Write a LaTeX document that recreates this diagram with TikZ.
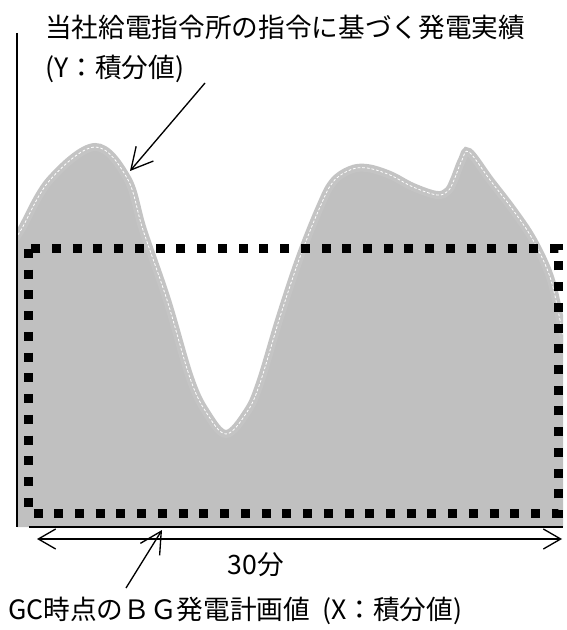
\documentclass[tikz,border=0pt]{standalone}
\usepackage{fontspec}
\setmainfont{Noto Sans CJK JP}
\usetikzlibrary{arrows.meta}
\definecolor{areagray}{HTML}{C0C0C0}
\definecolor{bandgray}{HTML}{C4C4C4}

% actual output curve (Y)
\newcommand{\actualcurve}{plot[smooth, tension=0.6] coordinates {(12,242) (21,230) (50,180) (95,147) (127,178) (143,230) (167,300) (190,378) (206,412) (226,434) (247,412) (260,383) (280,317) (300,257) (320,207) (333,182) (350,170) (367,168) (390,175) (413,187) (437,195) (448,191) (454,180) (462,160) (469,152) (490,180) (513,210) (533,240) (550,277) (560,320) (566,350)}}

\begin{document}
\begin{tikzpicture}[x=0.75pt, y=-0.75pt,
  barb/.style={-{Straight Barb[length=16pt,width=17pt]}, line width=1pt},
  spanbarb/.style={{Straight Barb[length=13pt,width=15pt]}-{Straight Barb[length=13pt,width=15pt]}, line width=1pt},
  planbox/.style={line width=6.75pt, dash pattern=on 6.75pt off 8.8pt},
  axis/.style={line width=1.5pt},
  label/.style={inner sep=0pt, font=\fontsize{20pt}{30pt}\selectfont}]
  \useasboundingbox (0,0) rectangle (566,630);

  % area under the actual output
  \begin{scope}
    \clip (17,0) rectangle (563,527);
    \fill[areagray] \actualcurve -- (566,527) -- (12,527) -- cycle;
    \draw[bandgray, line width=6pt] \actualcurve;
    \draw[white, line width=0.6pt, dash pattern=on 2pt off 1.5pt] \actualcurve;
  \end{scope}

  % BG plan (X)
  \draw[planbox] (28,249) rectangle (558,513);

  \draw[axis] (17,33) -- (17,527);
  \draw[axis] (29,527) -- (563,527);

  \coordinate (spanL) at (37,539);
  \coordinate (spanR) at (562,539);
  \draw[spanbarb] (spanL) -- (spanR);
  \node[label] (span) at (256,565) {30分};

  \node[label, anchor=north west, align=left] (resultlabel) at (45,15) {当社給電指令所の指令に基づく発電実績\\(Y：積分値)};
  \coordinate (resultfrom) at (205,83);
  \coordinate (resultto) at (130,171);
  \draw[barb] (resultfrom) -- (resultto);

  \node[label, anchor=west] (planlabel) at (8,611) {GC時点のＢＧ発電計画値\hspace{0.45em}(X：積分値)};
  \coordinate (planfrom) at (126,588);
  \coordinate (planto) at (162,530);
  \draw[barb] (planfrom) -- (planto);
\end{tikzpicture}
\end{document}
